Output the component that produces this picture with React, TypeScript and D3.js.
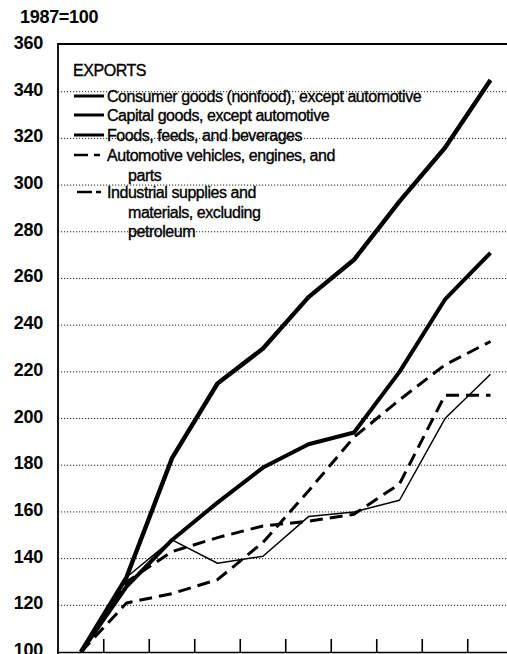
import { useEffect, useRef } from 'react';
import * as d3 from 'd3';

// index, 1987 = 100
const years = [1987, 1988, 1989, 1990, 1991, 1992, 1993, 1994, 1995, 1996];
const consumerGoods = [100, 132, 183, 215, 230, 252, 268, 293, 316, 345];
const capitalGoods = [100, 128, 148, 164, 179, 189, 194, 220, 251, 271];
const foods = [100, 132, 148, 138, 141, 158, 160, 165, 200, 219];
const automotive = [100, 121, 125, 131, 147, 169, 192, 208, 223, 233];
const industrial = [100, 130, 143, 149, 154, 156, 159, 172, 210, 210];
const yTicks = [100, 120, 140, 160, 180, 200, 220, 240, 260, 280, 300, 320, 340, 360];

const legendRows = [
  { lines: ['Consumer goods (nonfood), except automotive'], kind: 'thick' },
  { lines: ['Capital goods, except automotive'], kind: 'thick' },
  { lines: ['Foods, feeds, and beverages'], kind: 'thick' },
  { lines: ['Automotive vehicles, engines, and', 'parts'], kind: 'dash' },
  { lines: ['Industrial supplies and', 'materials, excluding', 'petroleum'], kind: 'dash2' },
];

const FONT = '"Liberation Sans", Arial, Helvetica, sans-serif';

export default function App() {
  const ref = useRef<SVGSVGElement>(null);

  useEffect(() => {
    const width = 507;
    const height = 654;
    const left = 58;
    const top = 45;
    const bottom = 652;

    const svg = d3.select(ref.current);
    svg.selectAll('*').remove();

    const x = d3.scaleLinear().domain([1987, 1996]).range([81, 490.5]);
    const y = d3.scaleLinear().domain([100, 360]).range([bottom, top]);

    // dotted gridlines
    svg.append('g')
      .selectAll('line')
      .data(yTicks.filter(d => d > 100 && d < 360))
      .join('line')
      .attr('x1', left)
      .attr('x2', width)
      .attr('y1', d => y(d))
      .attr('y2', d => y(d))
      .attr('stroke', '#222')
      .attr('stroke-width', 1)
      .attr('stroke-dasharray', '1.2,1.8');

    // frame
    svg.append('line')
      .attr('x1', left).attr('x2', width)
      .attr('y1', top - 1).attr('y2', top - 1)
      .attr('stroke', '#000').attr('stroke-width', 2.2);
    svg.append('line')
      .attr('x1', left).attr('x2', left)
      .attr('y1', top - 2).attr('y2', height)
      .attr('stroke', '#000').attr('stroke-width', 1.8);
    svg.append('line')
      .attr('x1', left).attr('x2', width)
      .attr('y1', bottom + 0.5).attr('y2', bottom + 0.5)
      .attr('stroke', '#000').attr('stroke-width', 1.5);

    // x ticks between years
    svg.append('g')
      .selectAll('line')
      .data(years.slice(0, -1))
      .join('line')
      .attr('x1', d => x(d + 0.5))
      .attr('x2', d => x(d + 0.5))
      .attr('y1', bottom - 13)
      .attr('y2', bottom)
      .attr('stroke', '#000')
      .attr('stroke-width', 1.6);

    // y labels
    svg.append('g')
      .selectAll('text')
      .data(yTicks)
      .join('text')
      .attr('x', 43)
      .attr('y', d => y(d) - 2)
      .attr('text-anchor', 'end')
      .attr('dominant-baseline', 'central')
      .attr('font-family', FONT)
      .attr('font-weight', 'bold')
      .attr('font-size', 18)
      .attr('letter-spacing', -0.3)
      .text(d => d);

    svg.append('text')
      .attr('x', 20)
      .attr('y', 23)
      .attr('font-family', FONT)
      .attr('font-weight', 'bold')
      .attr('font-size', 18)
      .attr('letter-spacing', -0.3)
      .text('1987=100');

    // series
    const line = d3.line<number>()
      .x((_, i) => x(years[i]))
      .y(d => y(d));

    const series = [
      { values: foods, width: 1.5, dash: null },
      { values: automotive, width: 3, dash: '13,7' },
      { values: industrial, width: 3, dash: '13,7' },
      { values: capitalGoods, width: 4, dash: null },
      { values: consumerGoods, width: 4.4, dash: null },
    ];

    svg.append('g')
      .selectAll('path')
      .data(series)
      .join('path')
      .attr('d', d => line(d.values))
      .attr('fill', 'none')
      .attr('stroke', '#000')
      .attr('stroke-width', d => d.width)
      .attr('stroke-linejoin', 'round')
      .attr('stroke-dasharray', d => d.dash);

    // legend
    const legend = svg.append('g')
      .attr('font-family', FONT)
      .attr('font-size', 16)
      .attr('letter-spacing', -0.45);
    legend.append('text')
      .attr('x', 73).attr('y', 76)
      .attr('stroke', '#000').attr('stroke-width', 0.35)
      .text('EXPORTS');

    const rowBase = [102, 121, 141, 161, 198];
    legendRows.forEach((row, i) => {
      const by = rowBase[i];
      const sy = by - 6;
      if (row.kind === 'thick') {
        legend.append('line')
          .attr('x1', 74).attr('x2', 104).attr('y1', sy).attr('y2', sy)
          .attr('stroke', '#000').attr('stroke-width', 3);
      } else {
        const segs = row.kind === 'dash' ? [[74, 88], [94, 100]] : [[77, 92], [96, 101]];
        segs.forEach(([a, b]) => {
          legend.append('line')
            .attr('x1', a).attr('x2', b).attr('y1', sy).attr('y2', sy)
            .attr('stroke', '#000').attr('stroke-width', 2.5);
        });
      }
      row.lines.forEach((t, j) => {
        legend.append('text')
          .attr('x', j === 0 ? 107 : 128)
          .attr('y', by + j * 19.5)
          .attr('stroke', '#000')
          .attr('stroke-width', 0.35)
          .text(t);
      });
    });
  }, []);

  return (
    <svg
      ref={ref}
      width={507}
      height={654}
      style={{ position: 'absolute', left: 0, top: 0, background: '#fff' }}
    />
  );
}
